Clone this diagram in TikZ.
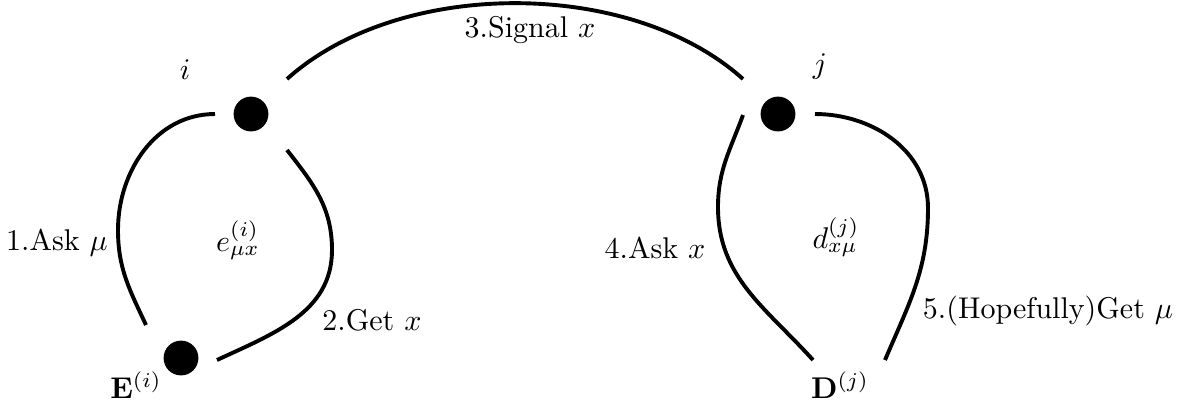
\documentclass[tikz,border=0pt]{standalone}
\begin{document}
\begin{tikzpicture}[x=0.3333pt,y=0.3333pt,
  dot/.style={circle,fill=black,inner sep=0pt,minimum size=11.6pt},
  lbl/.style={inner sep=0pt},
  link/.style={line width=1.3pt}]
\useasboundingbox (0,0) rectangle (1203,-407);
% dots
\node[dot] (ni) at (251,-114) {};
\node[dot] (nE) at (181,-358) {};
\node[dot] (nj) at (778,-114) {};
% labels
\node[lbl] (li) at (185,-70) {$i$};
\node[lbl] (lj) at (820,-67) {$j$};
\node[lbl] (lsig) at (530,-30) {3.Signal $x$};
\node[lbl] (lask) at (57,-243) {1.Ask $\mu$};
\node[lbl] (le) at (238,-240) {$e^{(i)}_{\mu x}$};
\node[lbl] (lget) at (372,-320) {2.Get $x$};
\node[lbl] (lE) at (136,-385) {$\mathbf{E}^{(i)}$};
\node[lbl] (laskx) at (655,-248) {4.Ask $x$};
\node[lbl] (ld) at (836,-237) {$d^{(j)}_{x\mu}$};
\node[lbl] (lhope) at (1048,-311) {5.(Hopefully)Get $\mu$};
\node[lbl] (lD) at (840,-385) {$\mathbf{D}^{(j)}$};
% connector end points
\coordinate (sA) at (287,-79);
\coordinate (sB) at (743,-79);
\coordinate (a1) at (215,-114);
\coordinate (a2) at (118,-230);
\coordinate (a3) at (146,-325);
\coordinate (g1) at (287,-150);
\coordinate (g2) at (332,-250);
\coordinate (g3) at (217,-360);
\coordinate (k1) at (743,-115);
\coordinate (k2) at (718,-207);
\coordinate (k3) at (813,-360);
\coordinate (h1) at (815,-114);
\coordinate (h2) at (928,-208);
\coordinate (h3) at (885,-360);
% connectors
\draw[link] (sA) to[out=42,in=138,looseness=0.85] (sB);
\draw[link] (a1) to[out=180,in=90] (a2) to[out=-90,in=115] (a3);
\draw[link] (g1) to[out=-52,in=90] (g2) to[out=-90,in=25] (g3);
\draw[link] (k1) to[out=-110,in=90] (k2) to[out=-90,in=132] (k3);
\draw[link] (h1) to[out=0,in=90] (h2) to[out=-90,in=67] (h3);
\end{tikzpicture}
\end{document}
